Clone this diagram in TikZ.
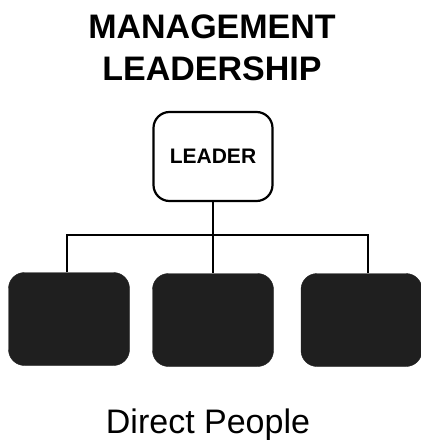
\documentclass[tikz,border=0pt]{standalone}
\usepackage{fontspec}
\setmainfont{Liberation Sans}
\newfontfamily\heavysans{Liberation Sans Bold}
\begin{document}
\begin{tikzpicture}[x=1pt,y=-1pt,
  titletext/.style={font=\heavysans\fontsize{34}{40}\selectfont, inner sep=0pt, anchor=base},
  leaderbox/.style={draw=black, line width=2.2pt, rounded corners=16pt, minimum width=119pt, minimum height=89pt, inner sep=0pt, font=\heavysans\fontsize{21}{25}\selectfont},
  blackbox/.style={fill=black!88, draw=black!88, rounded corners=16pt, minimum width=121pt, minimum height=93pt, inner sep=0pt},
  conn/.style={line width=2.2pt, black}]
\useasboundingbox (0,0) rectangle (421,440);
\node[titletext] (t1) at (212,38) {MANAGEMENT};
\node[titletext] (t2) at (212,80) {LEADERSHIP};
\node[leaderbox] (leader) at (213,156.5) {LEADER};
\node[blackbox] (lb) at (69,319) {};
\node[blackbox] (mb) at (213,320) {};
\node[blackbox] (rb) at (361.5,320) {};
\coordinate (j) at (213,235);
\draw[conn] (leader.south) -- (mb.north);
\draw[conn] ([xshift=-2pt]lb.north) -- ([xshift=-2pt]lb.north |- j) -- ([xshift=6.5pt]rb.north |- j) -- ([xshift=6.5pt]rb.north);
\node[font=\fontsize{34}{40}\selectfont, inner sep=0pt, anchor=base] (dp) at (208,433) {Direct People};
\end{tikzpicture}
\end{document}
